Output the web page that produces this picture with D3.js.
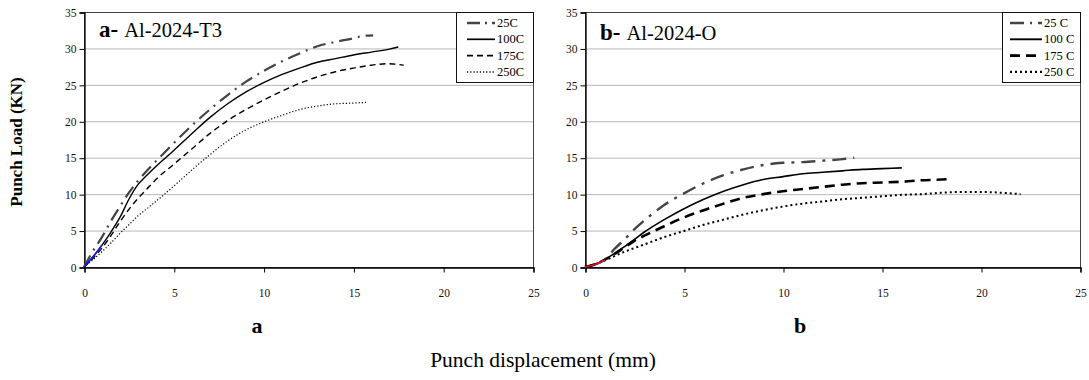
<!DOCTYPE html>
<html>
<head>
<meta charset="utf-8">
<script src="https://cdn.jsdelivr.net/npm/d3@7"></script>
<style>
  body { margin: 0; background: #fff; }
  svg { font-family: "Liberation Serif", "Times New Roman", serif; }
</style>
</head>
<body>
<svg id="chart" width="1089" height="380"></svg>
<script>
// Al-2024-T3 curves [displacement mm, load KN]
const t3_25 = [[0,0],[0.5,2.2],[1,4.1],[1.5,6.3],[2,8.3],[2.5,10.2],[3,11.8],[3.5,13.2],[4,14.5],[5,17.0],[6,19.4],[7,21.6],[8,23.6],[9,25.4],[10,26.9],[11,28.2],[12,29.3],[13,30.3],[14,30.9],[15,31.4],[15.5,31.7],[16.1,31.8]];
const t3_100 = [[0,0],[0.5,1.4],[1,3.0],[1.5,4.8],[2,6.8],[2.5,9.3],[3,11.3],[3.5,12.6],[4,13.8],[5,16.0],[6,18.3],[7,20.5],[8,22.4],[9,24.0],[10,25.3],[11,26.4],[12,27.3],[13,28.1],[14,28.6],[15,29.1],[16,29.5],[17,29.9],[17.5,30.2]];
const t3_175 = [[0,0],[0.5,1.2],[1,2.6],[1.5,4.3],[2,6.2],[2.5,7.9],[3,9.4],[3.5,10.7],[4,12.0],[5,14.1],[6,16.2],[7,18.3],[8,20.1],[9,21.6],[10,22.9],[11,24.1],[12,25.2],[13,26.1],[14,26.8],[15,27.3],[16,27.7],[16.9,27.9],[17.8,27.7]];
const t3_250 = [[0,0],[0.5,1.0],[1,2.1],[1.5,3.3],[2,4.6],[2.5,5.8],[3,7.0],[3.5,8.0],[4,9.0],[5,11.1],[6,13.3],[7,15.4],[8,17.3],[9,18.8],[10,19.9],[11,20.8],[12,21.6],[13,22.1],[14,22.4],[15,22.5],[15.7,22.6]];

// Al-2024-O curves
const o_25 = [[0,0],[0.5,0.35],[1,1.0],[1.5,2.5],[2,3.8],[2.5,5.2],[3,6.4],[3.5,7.5],[4,8.5],[5,10.1],[6,11.5],[7,12.6],[8,13.4],[9,14.0],[10,14.3],[11,14.4],[12,14.6],[13,14.8],[13.6,15.0]];
const o_100 = [[0,0],[0.5,0.35],[1,1.0],[1.5,1.9],[2,2.8],[2.5,3.8],[3,4.8],[4,6.5],[5,8.0],[6,9.3],[7,10.4],[8,11.3],[9,12.0],[10,12.4],[11,12.8],[12,13.0],[13,13.2],[14,13.4],[15,13.5],[16,13.6]];
const o_175 = [[0,0],[0.5,0.35],[1,1.0],[1.5,1.8],[2,2.7],[2.5,3.6],[3,4.3],[4,5.6],[5,6.8],[6,7.8],[7,8.7],[8,9.5],[9,10.0],[10,10.4],[11,10.7],[12,11.0],[13,11.3],[14,11.5],[15,11.6],[16,11.7],[17,11.9],[18,12.0],[18.5,12.1]];
const o_250 = [[0,0],[0.5,0.35],[1,0.9],[2,2.1],[3,3.1],[4,4.1],[5,4.95],[6,5.8],[7,6.5],[8,7.2],[9,7.8],[10,8.3],[11,8.7],[12,9.0],[13,9.3],[14,9.5],[15,9.7],[16,9.9],[17,10.0],[18,10.2],[19,10.3],[20,10.3],[21,10.2],[22,10.0]];

const xTicks = [0, 5, 10, 15, 20, 25];
const yTicks = [0, 5, 10, 15, 20, 25, 30, 35];
const legendA = ["25C", "100C", "175C", "250C"];
const legendB = ["25 C", "100 C", "175 C", "250 C"];

const svg = d3.select("#chart");

function drawPanel(p) {
  const x = d3.scaleLinear().domain([0, 25]).range([p.left, p.right]);
  const y = d3.scaleLinear().domain([0, 35]).range([p.bottom, p.top]);
  const g = svg.append("g");

  // gridlines
  g.append("g").selectAll("line")
    .data(yTicks.slice(1, -1))
    .join("line")
      .attr("x1", p.left).attr("x2", p.right)
      .attr("y1", d => y(d) + 0.5).attr("y2", d => y(d) + 0.5)
      .attr("stroke", "#b8b8b8");

  // frame
  g.append("rect")
    .attr("x", p.left + 0.5).attr("y", p.top + 0.5)
    .attr("width", p.right - p.left).attr("height", p.bottom - p.top)
    .attr("fill", "none").attr("stroke", "#444");

  const xAxis = g.append("g")
    .attr("transform", `translate(0.5,${p.bottom + 0.5})`)
    .call(d3.axisBottom(x).tickValues(xTicks).tickSize(5).tickPadding(16));
  const yAxis = g.append("g")
    .attr("transform", `translate(${p.left + 0.5},0.5)`)
    .call(d3.axisLeft(y).tickValues(yTicks).tickSize(5).tickPadding(3));
  [xAxis, yAxis].forEach(a => {
    a.select(".domain").attr("stroke", "#000").attr("stroke-width", 1.3);
    a.selectAll(".tick line").attr("stroke", "#000");
    a.selectAll("text").attr("font-family", "Liberation Serif").attr("font-size", 11.5).attr("fill", "#111");
  });

  const line = d3.line().x(d => x(d[0])).y(d => y(d[1])).curve(d3.curveMonotoneX);

  g.append("g").selectAll("path")
    .data(p.series)
    .join("path")
      .attr("d", d => line(d.values))
      .attr("fill", "none")
      .attr("stroke", d => d.color)
      .attr("stroke-width", d => d.width)
      .attr("stroke-dasharray", d => d.dash);

  // coloured start segment
  g.append("path")
    .attr("d", line(p.series[1].values.slice(0, 3)))
    .attr("fill", "none").attr("stroke", p.startColor).attr("stroke-width", 1.6);

  // title
  const title = g.append("text").attr("x", p.titleX).attr("y", p.titleY);
  title.append("tspan").attr("font-weight", "bold").attr("font-size", 23).text(p.tag);
  title.append("tspan").attr("font-size", 20.5).attr("dx", 6).text(p.name);

  // legend
  const lg = g.append("g");
  lg.append("rect")
    .attr("x", p.legX + 0.5).attr("y", p.top + 0.5)
    .attr("width", p.right - p.legX).attr("height", 70)
    .attr("fill", "#fff").attr("stroke", "#111");
  p.series.forEach((s, i) => {
    const ly = p.top + 11 + i * 16.3;
    lg.append("line")
      .attr("x1", p.legX + p.sampleX0).attr("x2", p.legX + p.sampleX1)
      .attr("y1", ly).attr("y2", ly)
      .attr("stroke", s.color).attr("stroke-width", s.width + 0.3)
      .attr("stroke-dasharray", s.legDash || s.dash);
    lg.append("text")
      .attr("x", p.legX + p.sampleX1 + 2).attr("y", ly + 4)
      .attr("font-size", 12.5).attr("fill", "#000")
      .text(p.legend[i]);
  });

  // panel letter
  g.append("text")
    .attr("x", p.letterX).attr("y", 333)
    .attr("text-anchor", "middle")
    .attr("font-weight", "bold").attr("font-size", 22)
    .text(p.letter);
}

drawPanel({
  left: 84, right: 533, top: 12, bottom: 267,
  titleX: 99, titleY: 37, tag: "a-", name: "Al-2024-T3",
  legX: 456, sampleX0: 11, sampleX1: 39, legend: legendA,
  letterX: 257, letter: "a", startColor: "#1a1aff",
  series: [
    { values: t3_25, color: "#444", width: 2.2, dash: "13,6,2,6", legDash: "13,5,2,5" },
    { values: t3_100, color: "#000", width: 1.4, dash: null },
    { values: t3_175, color: "#000", width: 1.4, dash: "6,4" },
    { values: t3_250, color: "#000", width: 1.2, dash: "1.2,2" }
  ]
});

drawPanel({
  left: 585, right: 1080, top: 12, bottom: 267,
  titleX: 600, titleY: 40, tag: "b-", name: "Al-2024-O",
  legX: 1002, sampleX0: 8, sampleX1: 40, legend: legendB,
  letterX: 800, letter: "b", startColor: "#e0102a",
  series: [
    { values: o_25, color: "#444", width: 2.4, dash: "14,7,3,7", legDash: "14,6,2,6" },
    { values: o_100, color: "#000", width: 1.6, dash: null },
    { values: o_175, color: "#000", width: 2.6, dash: "10,6" },
    { values: o_250, color: "#000", width: 2, dash: "2,3" }
  ]
});

// axis titles
svg.append("text")
  .attr("transform", "translate(22,142) rotate(-90)")
  .attr("text-anchor", "middle")
  .attr("font-weight", "bold").attr("font-size", 17)
  .text("Punch Load (KN)");

svg.append("text")
  .attr("x", 543).attr("y", 367)
  .attr("text-anchor", "middle")
  .attr("font-size", 21.5)
  .text("Punch displacement (mm)");
</script>
</body>
</html>
